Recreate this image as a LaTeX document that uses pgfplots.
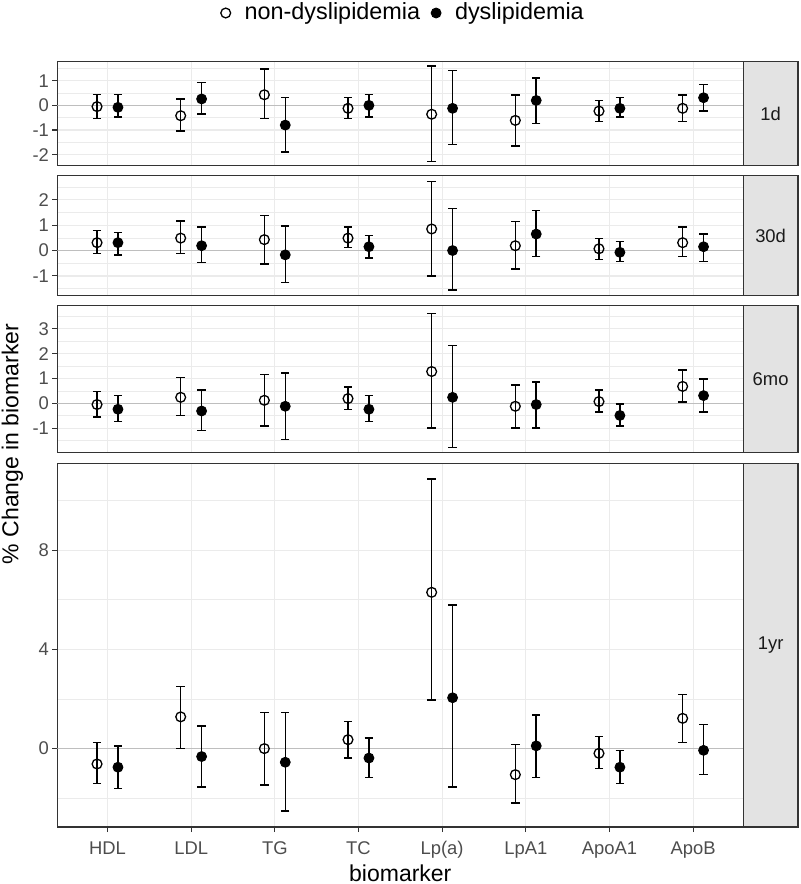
\documentclass[border=0pt]{standalone}
\usepackage{fontspec}
\setmainfont{Liberation Sans}
\usepackage{pgfplots}
\usepackage{pgfplotstable}
\pgfplotsset{compat=1.18}

\definecolor{grid92}{HTML}{EBEBEB}
\definecolor{grey20}{HTML}{333333}
\definecolor{grey30}{HTML}{4D4D4D}
\definecolor{grey10}{HTML}{1A1A1A}
\definecolor{stripfill}{HTML}{E3E3E3}
\definecolor{zeroline}{HTML}{BEBEBE}

% x: biomarker index; n* = non-dyslipidemia, d* = dyslipidemia (estimate, lower, upper)
\pgfplotstableread{
x  ny     nlo    nhi    dy     dlo    dhi
1  -0.05  -0.54  0.45   -0.08  -0.47  0.45
2  -0.42  -1.03  0.26   0.26   -0.36  0.93
3  0.43   -0.54  1.47   -0.80  -1.89  0.31
4  -0.12  -0.54  0.31   0.00   -0.47  0.45
5  -0.36  -2.27  1.59   -0.12  -1.58  1.42
6  -0.61  -1.64  0.43   0.20   -0.74  1.11
7  -0.23  -0.65  0.19   -0.12  -0.47  0.31
8  -0.12  -0.65  0.43   0.31   -0.23  0.85
}\oneday
\pgfplotstableread{
x  ny     nlo    nhi    dy     dlo    dhi
1  0.31   -0.12  0.79   0.31   -0.17  0.72
2  0.49   -0.12  1.16   0.19   -0.48  0.92
3  0.43   -0.53  1.39   -0.17  -1.25  0.96
4  0.49   0.12   0.92   0.15   -0.29  0.60
5  0.85   -1.01  2.73   0.00   -1.56  1.65
6  0.19   -0.72  1.15   0.65   -0.23  1.57
7  0.07   -0.36  0.48   -0.07  -0.43  0.36
8  0.31   -0.24  0.92   0.15   -0.43  0.65
}\thirtyday
\pgfplotstableread{
x  ny     nlo    nhi    dy     dlo    dhi
1  -0.05  -0.55  0.47   -0.24  -0.74  0.31
2  0.24   -0.49  1.03   -0.31  -1.09  0.54
3  0.12   -0.92  1.15   -0.12  -1.46  1.22
4  0.19   -0.24  0.66   -0.24  -0.74  0.31
5  1.28   -0.99  3.61   0.24   -1.78  2.32
6  -0.12  -0.99  0.73   -0.05  -0.99  0.85
7  0.07   -0.36  0.54   -0.49  -0.92  -0.03
8  0.68   0.05   1.34   0.31   -0.36  0.97
}\sixmonth
\pgfplotstableread{
x  ny     nlo    nhi    dy     dlo    dhi
1  -0.62  -1.41  0.24   -0.75  -1.60  0.11
2  1.28   0.00   2.51   -0.32  -1.54  0.91
3  0.00   -1.46  1.45   -0.55  -2.51  1.45
4  0.36   -0.38  1.09   -0.38  -1.17  0.42
5  6.30   1.95   10.86  2.05   -1.54  5.78
6  -1.05  -2.20  0.17   0.11   -1.17  1.36
7  -0.19  -0.81  0.48   -0.75  -1.41  -0.07
8  1.22   0.24   2.19   -0.07  -1.05  0.98
}\oneyear

\pgfplotsset{
  panel/.style={
    scale only axis, width=343pt,
    xmin=0.4, xmax=8.6, xtick={1,...,8},
    tick align=outside, tick pos=left,
    major tick length=2.6pt, minor tick length=0pt,
    tick style={grey20, line width=0.55pt},
    xmajorgrids, ymajorgrids, yminorgrids,
    major grid style={grid92, line width=0.6pt},
    minor grid style={grid92, line width=0.35pt},
    axis line style={grey20, line width=0.6pt},
    ticklabel style={font=\fontsize{9.2}{11}\selectfont, text=grey30},
    yticklabel style={inner xsep=1.4pt},
    xticklabel style={text height=6.6pt, text depth=1.8pt, inner ysep=4.4pt},
  },
  upper/.style={xticklabels={}, xtick style={draw=none}},
  ebar/.style={error bars/.cd, y dir=both, y explicit,
    error bar style={black, line width=0.75pt},
    error mark options={black, line width=0.75pt, mark size=2.1pt, rotate=90}},
  nondys/.style={black, only marks, mark=o, mark size=2.45pt,
    mark options={line width=0.65pt}, ebar},
  dys/.style={black, only marks, mark=*, mark size=2.45pt,
    mark options={line width=0.5pt}, ebar},
}
\newcommand{\zero}{\addplot[zeroline, line width=0.75pt, forget plot] coordinates {(0.4,0) (8.6,0)};}
\newcommand{\nonplot}[1]{\addplot[nondys] table[x expr=\thisrow{x}-0.125, y=ny,
  y error plus expr=\thisrow{nhi}-\thisrow{ny}, y error minus expr=\thisrow{ny}-\thisrow{nlo}] {#1};}
\newcommand{\dysplot}[1]{\addplot[dys] table[x expr=\thisrow{x}+0.125, y=dy,
  y error plus expr=\thisrow{dhi}-\thisrow{dy}, y error minus expr=\thisrow{dy}-\thisrow{dlo}] {#1};}
\newcommand{\strip}[3]{% top, bottom, label
  \draw[fill=stripfill, draw=grey20, line width=0.6pt] (371.65pt,#1) rectangle (399pt,#2);
  \node[font=\fontsize{9.2}{11}\selectfont, text=grey10] at (385.3pt,{0.5*(#1)+0.5*(#2)}) {#3};}

\begin{document}
\begin{tikzpicture}
\useasboundingbox (0,0) rectangle (400pt,-442pt);

\begin{axis}[panel, upper, at={(28.65pt,-30.85pt)}, anchor=north west, height=51.8pt,
  ymin=-2.43, ymax=1.77, ytick={-2,-1,0,1}, yticklabels={-2,-1,0,1},
  minor ytick={-1.5,-0.5,0.5,1.5},
  legend columns=2,
  legend style={at={(axis description cs:0.5,1)}, anchor=center, xshift=2pt, yshift=24.35pt,
    draw=none, fill=none, font=\fontsize{11.7}{13}\selectfont,
    /tikz/every even column/.append style={column sep=3.5pt},
    /tikz/every odd column/.append style={column sep=5pt}},
  legend image code/.code={\draw[mark repeat=2, mark phase=2, #1] plot coordinates {(0pt,0pt) (2.5pt,0pt) (5pt,0pt)};}]
\zero
\nonplot{\oneday}\addlegendentry{non-dyslipidemia}
\dysplot{\oneday}\addlegendentry{dyslipidemia}
\end{axis}

\begin{axis}[panel, upper, at={(28.65pt,-87.85pt)}, anchor=north west, height=60pt,
  ymin=-1.78, ymax=2.95, ytick={-1,0,1,2}, yticklabels={-1,0,1,2},
  minor ytick={-1.5,-0.5,0.5,1.5,2.5}]
\zero
\nonplot{\thirtyday}
\dysplot{\thirtyday}
\end{axis}

\begin{axis}[panel, upper, at={(28.65pt,-152.85pt)}, anchor=north west, height=73.5pt,
  ymin=-1.99, ymax=3.93, ytick={-1,0,1,2,3}, yticklabels={-1,0,1,2,3},
  minor ytick={-1.5,-0.5,0.5,1.5,2.5,3.5}]
\zero
\nonplot{\sixmonth}
\dysplot{\sixmonth}
\end{axis}

\begin{axis}[panel, at={(28.65pt,-231.65pt)}, anchor=north west, height=181.85pt,
  ymin=-3.16, ymax=11.5, ytick={0,4,8}, yticklabels={0,4,8},
  minor ytick={-2,2,6,10},
  xticklabels={HDL,LDL,TG,TC,Lp(a),LpA1,ApoA1,ApoB},
  xlabel={biomarker},
  xlabel style={at={(axis description cs:0.5,0)}, anchor=center, yshift=-23pt,
    font=\fontsize{11.5}{13}\selectfont},
  ylabel={\% Change in biomarker},
  ylabel style={at={(axis description cs:-0.0653,1.053)}, anchor=center,
    font=\fontsize{11.5}{13}\selectfont}]
\zero
\nonplot{\oneyear}
\dysplot{\oneyear}
\end{axis}

\strip{-30.85pt}{-82.65pt}{1d}
\strip{-87.85pt}{-147.85pt}{30d}
\strip{-152.85pt}{-226.35pt}{6mo}
\strip{-231.65pt}{-413.5pt}{1yr}
\end{tikzpicture}
\end{document}
